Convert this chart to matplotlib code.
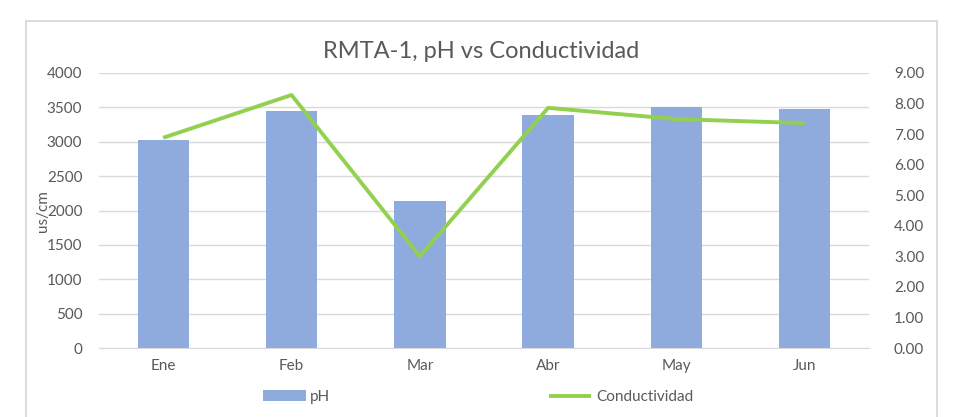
import numpy as np
import matplotlib
matplotlib.use('Agg')
from matplotlib import pyplot as plt
from matplotlib.patches import Rectangle

meses = ['Ene', 'Feb', 'Mar', 'Abr', 'May', 'Jun']
ph = [3030, 3440, 2140, 3395, 3505, 3480]          # barras, eje izquierdo
conductividad = [6.88, 8.28, 3.0, 7.86, 7.49, 7.36]  # linea, eje derecho
yticks_izq = list(range(0, 4001, 500))
yticks_der = list(range(0, 10))

plt.rcParams['font.family'] = ['Lato', 'DejaVu Sans']
gris = '#595959'

W, H = 969, 417
fig = plt.figure(figsize=(W / 100, H / 100), dpi=100)

# marco del grafico
fig.patches.append(Rectangle((25.5 / W, -0.1), (937 - 25.5) / W, 1.1 - 21 / H,
                             transform=fig.transFigure, fill=False,
                             edgecolor='#d9d9d9', linewidth=1.3))

ax = fig.add_axes([99 / W, 1 - 348 / H, 770 / W, 275 / H])
x = np.arange(len(meses))
ax.bar(x, ph, width=0.4, color='#8faadc', label='pH', zorder=2)
ax.set_xlim(-0.5, 5.5)
ax.set_ylim(0, 4000)
ax.set_yticks(yticks_izq)
ax.set_xticks(x)
ax.set_xticklabels(meses)
ax.grid(axis='y', color='#d9d9d9', linewidth=1, zorder=0)
ax.set_axisbelow(True)
for s in ax.spines.values():
    s.set_visible(False)
ax.spines['bottom'].set_visible(True)
ax.spines['bottom'].set_color('#d9d9d9')
ax.tick_params(axis='both', length=0, colors=gris, labelsize=11)
ax.tick_params(axis='x', pad=8)
ax.tick_params(axis='y', pad=12)

ax2 = ax.twinx()
ax2.plot(x, conductividad, color='#92d050', linewidth=2.8, label='Conductividad',
         solid_capstyle='butt', zorder=3)
ax2.set_ylim(0, 9)
ax2.set_yticks(yticks_der)
ax2.set_yticklabels(['%.2f' % v for v in yticks_der])
for s in ax2.spines.values():
    s.set_visible(False)
ax2.tick_params(axis='y', length=0, colors=gris, labelsize=11, pad=18)

fig.text(481 / W, 1 - 52 / H, 'RMTA-1, pH vs Conductividad', ha='center', va='center',
         fontsize=17, color=gris)
fig.text(43 / W, 1 - 211 / H, 'us/cm', rotation=90, ha='center', va='center',
         fontsize=11, color=gris)

h1, l1 = ax.get_legend_handles_labels()
h2, l2 = ax2.get_legend_handles_labels()
fig.legend(h1 + h2, l1 + l2, loc='center left', bbox_to_anchor=(249 / W, 1 - 397 / H),
           ncol=2, frameon=False, fontsize=11, handlelength=2.8, handleheight=0.7,
           handletextpad=0.3, columnspacing=14.3, labelcolor=gris)

fig.savefig('out.png', dpi=100)
